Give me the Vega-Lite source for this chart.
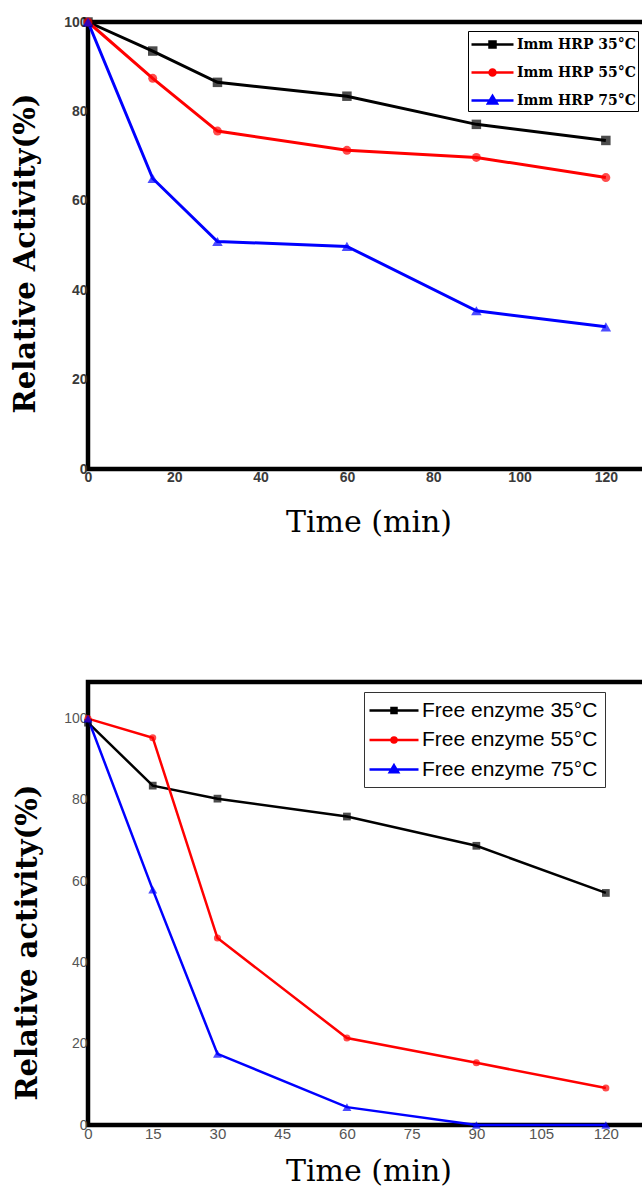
{
  "$schema": "https://vega.github.io/schema/vega-lite/v6.json",
  "padding": {"left": 8, "top": 12, "right": 0, "bottom": 0},
  "background": "white",
  "spacing": 139,
  "config": {
    "view": {"stroke": "black", "strokeWidth": 4.5},
    "axis": {"domain": false, "ticks": false, "grid": false, "labelFlush": false, "labelOverlap": false, "titleColor": "black"}
  },
  "resolve": {"scale": {"color": "independent", "x": "independent", "y": "independent"}},
  "datasets": {
    "imm": [
      {"time": 0, "activity": 100, "series": "Imm HRP 35°C"},
      {"time": 15, "activity": 93.5, "series": "Imm HRP 35°C"},
      {"time": 30, "activity": 86.5, "series": "Imm HRP 35°C"},
      {"time": 60, "activity": 83.4, "series": "Imm HRP 35°C"},
      {"time": 90, "activity": 77.1, "series": "Imm HRP 35°C"},
      {"time": 120, "activity": 73.5, "series": "Imm HRP 35°C"},
      {"time": 0, "activity": 100, "series": "Imm HRP 55°C"},
      {"time": 15, "activity": 87.4, "series": "Imm HRP 55°C"},
      {"time": 30, "activity": 75.6, "series": "Imm HRP 55°C"},
      {"time": 60, "activity": 71.3, "series": "Imm HRP 55°C"},
      {"time": 90, "activity": 69.7, "series": "Imm HRP 55°C"},
      {"time": 120, "activity": 65.2, "series": "Imm HRP 55°C"},
      {"time": 0, "activity": 100, "series": "Imm HRP 75°C"},
      {"time": 15, "activity": 65, "series": "Imm HRP 75°C"},
      {"time": 30, "activity": 50.9, "series": "Imm HRP 75°C"},
      {"time": 60, "activity": 49.8, "series": "Imm HRP 75°C"},
      {"time": 90, "activity": 35.4, "series": "Imm HRP 75°C"},
      {"time": 120, "activity": 31.8, "series": "Imm HRP 75°C"}
    ],
    "free": [
      {"time": 0, "activity": 99, "series": "Free enzyme 35°C"},
      {"time": 15, "activity": 83.5, "series": "Free enzyme 35°C"},
      {"time": 30, "activity": 80.3, "series": "Free enzyme 35°C"},
      {"time": 60, "activity": 75.9, "series": "Free enzyme 35°C"},
      {"time": 90, "activity": 68.7, "series": "Free enzyme 35°C"},
      {"time": 120, "activity": 57.1, "series": "Free enzyme 35°C"},
      {"time": 0, "activity": 100, "series": "Free enzyme 55°C"},
      {"time": 15, "activity": 95.3, "series": "Free enzyme 55°C"},
      {"time": 30, "activity": 46, "series": "Free enzyme 55°C"},
      {"time": 60, "activity": 21.4, "series": "Free enzyme 55°C"},
      {"time": 90, "activity": 15.3, "series": "Free enzyme 55°C"},
      {"time": 120, "activity": 9.1, "series": "Free enzyme 55°C"},
      {"time": 0, "activity": 100, "series": "Free enzyme 75°C"},
      {"time": 15, "activity": 57.9, "series": "Free enzyme 75°C"},
      {"time": 30, "activity": 17.5, "series": "Free enzyme 75°C"},
      {"time": 60, "activity": 4.4, "series": "Free enzyme 75°C"},
      {"time": 90, "activity": 0, "series": "Free enzyme 75°C"},
      {"time": 120, "activity": 0, "series": "Free enzyme 75°C"}
    ]
  },
  "vconcat": [
    {
      "width": 561,
      "height": 447,
      "data": {"name": "imm"},
      "encoding": {
        "x": {"field": "time", "type": "quantitative", "scale": {"domain": [0, 130], "nice": false},
          "axis": {"values": [0, 20, 40, 60, 80, 100, 120], "labelFont": "Liberation Sans", "labelFontSize": 14, "labelFontWeight": "bold", "labelColor": "#3a3a3a", "labelPadding": 1,
            "title": "Time (min)", "titleFont": "DejaVu Serif", "titleFontSize": 30, "titleFontWeight": "normal", "titlePadding": 23}},
        "y": {"field": "activity", "type": "quantitative", "scale": {"domain": [0, 100], "nice": false},
          "axis": {"values": [0, 20, 40, 60, 80, 100], "labelFont": "Liberation Sans", "labelFontSize": 14, "labelFontWeight": "bold", "labelColor": "#3a3a3a", "labelPadding": 1,
            "title": "Relative Activity(%)", "titleFont": "DejaVu Serif", "titleFontSize": 29, "titleFontWeight": "bold", "titleX": -63, "titleY": 231, "titleBaseline": "middle", "titleAlign": "center"}}
      },
      "layer": [
        {
          "mark": {"type": "line", "strokeWidth": 3},
          "encoding": {
            "color": {"field": "series", "type": "nominal",
              "scale": {"domain": ["Imm HRP 35°C", "Imm HRP 55°C", "Imm HRP 75°C"], "range": ["#000000", "#ff0000", "#0000ff"]},
              "legend": {"orient": "none", "legendX": 380, "legendY": 9, "title": null, "strokeColor": "black", "fillColor": "white", "padding": 2, "rowPadding": 8, "labelLimit": 300,
                "symbolSize": 400, "symbolStrokeWidth": 2.5, "labelFont": "DejaVu Serif", "labelFontSize": 14, "labelFontWeight": "bold", "labelColor": "black", "labelOffset": 24,
                "encode": {"symbols": {"update": {
                  "shape": {"signal": "indexof(datum.value, '35') >= 0 ? 'M-1,0H3.2M0.8,-0.3H1.4V0.3H0.8Z' : indexof(datum.value, '55') >= 0 ? 'M-1,0H3.2M0.8,0A0.3,0.3,0,1,0,1.4,0A0.3,0.3,0,1,0,0.8,0Z' : 'M-1,0H3.2M1.1,-0.45L1.55,0.3H0.65Z'"},
                  "fill": {"signal": "indexof(datum.value, '35') >= 0 ? '#000000' : indexof(datum.value, '55') >= 0 ? '#ff0000' : '#0000ff'"}
                }}}}
            }
          }
        },
        {"transform": [{"filter": {"field": "series", "equal": "Imm HRP 35°C"}}], "mark": {"type": "point", "filled": true, "size": 90, "shape": "square", "color": "#000000"}},
        {"transform": [{"filter": {"field": "series", "equal": "Imm HRP 55°C"}}], "mark": {"type": "point", "filled": true, "size": 80, "shape": "circle", "color": "#ff0000"}},
        {"transform": [{"filter": {"field": "series", "equal": "Imm HRP 75°C"}}], "mark": {"type": "point", "filled": true, "size": 110, "shape": "triangle-up", "color": "#0000ff"}}
      ]
    },
    {
      "width": 561,
      "height": 443,
      "data": {"name": "free"},
      "encoding": {
        "x": {"field": "time", "type": "quantitative", "scale": {"domain": [0, 130], "nice": false},
          "axis": {"values": [0, 15, 30, 45, 60, 75, 90, 105, 120], "labelFont": "Liberation Sans", "labelFontSize": 15, "labelFontWeight": "normal", "labelColor": "#555555", "labelPadding": 1,
            "title": "Time (min)", "titleFont": "DejaVu Serif", "titleFontSize": 30, "titleFontWeight": "normal", "titlePadding": 15}},
        "y": {"field": "activity", "type": "quantitative", "scale": {"domain": [0, 109], "nice": false},
          "axis": {"values": [0, 20, 40, 60, 80, 100], "labelFont": "Liberation Sans", "labelFontSize": 14, "labelFontWeight": "normal", "labelColor": "#555555", "labelPadding": 1,
            "title": "Relative activity(%)", "titleFont": "DejaVu Serif", "titleFontSize": 29, "titleFontWeight": "bold", "titleX": -61, "titleY": 260, "titleBaseline": "middle", "titleAlign": "center"}}
      },
      "layer": [
        {
          "mark": {"type": "line", "strokeWidth": 2.5},
          "encoding": {
            "color": {"field": "series", "type": "nominal",
              "scale": {"domain": ["Free enzyme 35°C", "Free enzyme 55°C", "Free enzyme 75°C"], "range": ["#000000", "#ff0000", "#0000ff"]},
              "legend": {"orient": "none", "legendX": 276, "legendY": 10, "title": null, "strokeColor": "#333333", "fillColor": "white", "padding": 7, "rowPadding": 7.5, "labelLimit": 300,
                "symbolSize": 400, "symbolStrokeWidth": 2.5, "labelFont": "Liberation Sans", "labelFontSize": 21, "labelFontWeight": "normal", "labelColor": "black", "labelOffset": 28,
                "encode": {"symbols": {"update": {
                  "shape": {"signal": "indexof(datum.value, '35') >= 0 ? 'M-1.3,0H3.6M0.9,-0.25H1.4V0.25H0.9Z' : indexof(datum.value, '55') >= 0 ? 'M-1.3,0H3.6M0.9,0A0.25,0.25,0,1,0,1.4,0A0.25,0.25,0,1,0,0.9,0Z' : 'M-1.3,0H3.6M1.15,-0.42L1.57,0.28H0.73Z'"},
                  "fill": {"signal": "indexof(datum.value, '35') >= 0 ? '#000000' : indexof(datum.value, '55') >= 0 ? '#ff0000' : '#0000ff'"}
                }}}}
            }
          }
        },
        {"transform": [{"filter": {"field": "series", "equal": "Free enzyme 35°C"}}], "mark": {"type": "point", "filled": true, "size": 60, "shape": "square", "color": "#000000"}},
        {"transform": [{"filter": {"field": "series", "equal": "Free enzyme 55°C"}}], "mark": {"type": "point", "filled": true, "size": 50, "shape": "circle", "color": "#ff0000"}},
        {"transform": [{"filter": {"field": "series", "equal": "Free enzyme 75°C"}}], "mark": {"type": "point", "filled": true, "size": 80, "shape": "triangle-up", "color": "#0000ff"}}
      ]
    }
  ]
}
